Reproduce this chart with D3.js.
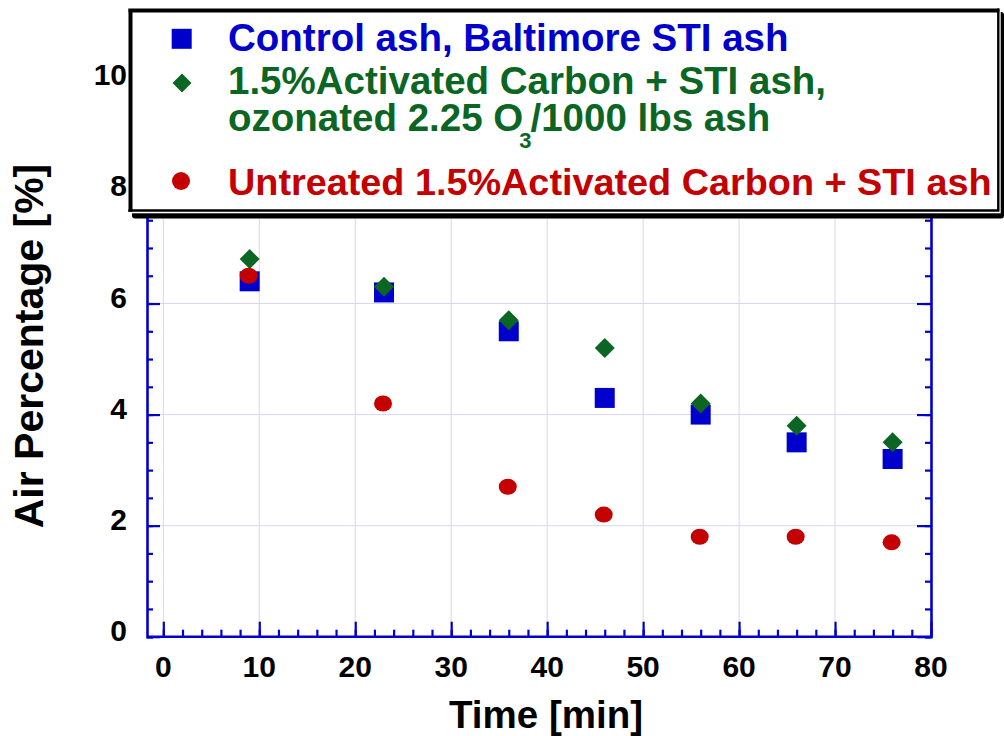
<!DOCTYPE html>
<html><head><meta charset="utf-8">
<script src="https://cdn.jsdelivr.net/npm/d3@7/dist/d3.min.js"></script>
<style>
html,body{margin:0;padding:0;background:#fff;}
svg{display:block;font-family:"Liberation Sans",Arial,sans-serif;font-weight:bold;}
</style></head>
<body>
<svg id="chart" width="1004" height="736"></svg>
<script>
// ---- data ----
const times = [9, 23, 36, 46, 56, 66, 76];
const controlAsh = [6.4, 6.2, 5.5, 4.3, 4.0, 3.5, 3.2];
const ozonatedAC = [6.8, 6.3, 5.7, 5.2, 4.2, 3.8, 3.5];
const untreatedAC = [6.5, 4.2, 2.7, 2.2, 1.8, 1.8, 1.7];
const xTicks = [0, 10, 20, 30, 40, 50, 60, 70, 80];
const yTicks = [0, 2, 4, 6, 8, 10];
const seriesNames = [
  "Control ash, Baltimore STI ash",
  "1.5%Activated Carbon + STI ash,",
  "Untreated 1.5%Activated Carbon + STI ash"
];

const BLUE = "#0000cc", GREEN = "#0b6623", RED = "#c40000", GRID = "#d6d6f2";
const svg = d3.select("#chart");

const x = d3.scaleLinear().domain([-1.7, 80]).range([147, 931]);
const y = d3.scaleLinear().domain([0, 10]).range([636.7, 81.4]);

// gridlines
const grid = svg.append("g");
grid.selectAll("line.gx").data(xTicks.filter(d => d < 80)).join("line")
  .attr("x1", d => x(d)).attr("x2", d => x(d)).attr("y1", y(0)).attr("y2", y(10))
  .attr("stroke", GRID).attr("stroke-width", 1);
grid.selectAll("line.gy").data(yTicks.filter(d => d > 0)).join("line")
  .attr("x1", x(-1.7)).attr("x2", x(80)).attr("y1", d => y(d)).attr("y2", d => y(d))
  .attr("stroke", GRID).attr("stroke-width", 1);

// axes (ticks inside)
const xMinor = d3.range(0, 80.01, 2);
const yMinor = d3.range(0, 10.01, 0.5);
const axB = svg.append("g").attr("transform", `translate(0,${y(0)})`)
  .call(d3.axisBottom(x).tickValues(xMinor).tickSize(-7).tickFormat(""));
const axB2 = svg.append("g").attr("transform", `translate(0,${y(0)})`)
  .call(d3.axisBottom(x).tickValues(xTicks).tickSize(-15).tickFormat(""));
const axL = svg.append("g").attr("transform", `translate(${x(-1.7)},0)`)
  .call(d3.axisLeft(y).tickValues(yMinor).tickSize(-6).tickFormat(""));
const axL2 = svg.append("g").attr("transform", `translate(${x(-1.7)},0)`)
  .call(d3.axisLeft(y).tickValues(yTicks).tickSize(-13).tickFormat(""));
const axR = svg.append("g").attr("transform", `translate(${x(80)},0)`)
  .call(d3.axisRight(y).tickValues(yMinor).tickSize(-6).tickFormat(""));
const axR2 = svg.append("g").attr("transform", `translate(${x(80)},0)`)
  .call(d3.axisRight(y).tickValues(yTicks).tickSize(-14).tickFormat(""));
[axB, axB2, axL, axL2, axR, axR2].forEach(g => {
  g.select(".domain").attr("stroke", BLUE).attr("stroke-width", 2.6);
  g.selectAll(".tick line").attr("stroke", BLUE).attr("stroke-width", 2.2);
});
[axB2, axL2, axR2].forEach(g => g.select(".domain").remove());
axB.select(".domain").attr("d", `M${x(-1.7)},0H${x(80)}`);

// tick labels
svg.append("g").selectAll("text").data(xTicks).join("text")
  .attr("x", d => x(d)).attr("y", 677).attr("text-anchor", "middle")
  .attr("font-size", 30).attr("fill", "#000").text(d => d);
svg.append("g").selectAll("text").data(yTicks).join("text")
  .attr("x", 127).attr("y", d => y(d) + 4).attr("text-anchor", "end")
  .attr("font-size", 30).attr("fill", "#000").text(d => d);

// axis titles
svg.append("text").attr("x", 546).attr("y", 728).attr("text-anchor", "middle")
  .attr("font-size", 38.5).attr("fill", "#000").text("Time [min]");
svg.append("text").attr("transform", "translate(43,346) rotate(-90)")
  .attr("text-anchor", "middle").attr("font-size", 41).attr("fill", "#000")
  .text("Air Percentage [%]");

// markers
const pts = (vals) => times.map((t, i) => ({t, v: vals[i]}));
svg.append("g").selectAll("rect").data(pts(controlAsh)).join("rect")
  .attr("x", d => x(d.t) - 10).attr("y", d => y(d.v) - 10)
  .attr("width", 20).attr("height", 20).attr("fill", BLUE);
svg.append("g").selectAll("ellipse").data(pts(untreatedAC)).join("ellipse")
  .attr("cx", d => x(d.t) - 1).attr("cy", d => y(d.v))
  .attr("rx", 9).attr("ry", 8).attr("fill", RED);
const diamond = (cx, cy, r) => `M${cx},${cy - r}L${cx + r},${cy}L${cx},${cy + r}L${cx - r},${cy}Z`;
svg.append("g").selectAll("path").data(pts(ozonatedAC)).join("path")
  .attr("d", d => diamond(x(d.t), y(d.v), 10)).attr("fill", GREEN);

// legend box with shadow
const lg = svg.append("g");
lg.append("rect").attr("x", 132).attr("y", 12).attr("width", 872).attr("height", 206.5)
  .attr("rx", 3).attr("fill", "#000");
lg.append("rect").attr("x", 127).attr("y", 7).attr("width", 873.7).attr("height", 206.3)
  .attr("fill", "#fff");
lg.append("path").attr("d", "M128.3,10.5H999.3M130.5,8.5V211.7")
  .attr("stroke", "#000").attr("stroke-width", 4).attr("fill", "none");
lg.append("path").attr("d", "M128.3,210.5H999.3M998.3,8.5V211.7")
  .attr("stroke", "#000").attr("stroke-width", 2.4).attr("fill", "none");

lg.append("rect").attr("x", 171.7).attr("y", 28.8).attr("width", 20).attr("height", 20).attr("fill", BLUE);
lg.append("path").attr("d", diamond(182, 83, 9.5)).attr("fill", GREEN);
lg.append("circle").attr("cx", 181).attr("cy", 181).attr("r", 9).attr("fill", RED);

lg.append("text").attr("x", 228).attr("y", 50.5).attr("font-size", 38.5).attr("fill", BLUE).text(seriesNames[0]);
lg.append("text").attr("x", 228).attr("y", 94).attr("font-size", 38.5).attr("fill", GREEN).text(seriesNames[1]);
const l3 = lg.append("text").attr("x", 228).attr("y", 131).attr("font-size", 38.5).attr("fill", GREEN);
l3.append("tspan").text("ozonated 2.25 O");
l3.append("tspan").attr("font-size", 22).attr("dx", -4).attr("dy", 17).text("3");
l3.append("tspan").attr("dx", -1).attr("dy", -17).text("/1000 lbs ash");
lg.append("text").attr("x", 228).attr("y", 195).attr("font-size", 37.8).attr("fill", RED).text(seriesNames[2]);
</script>
</body></html>
